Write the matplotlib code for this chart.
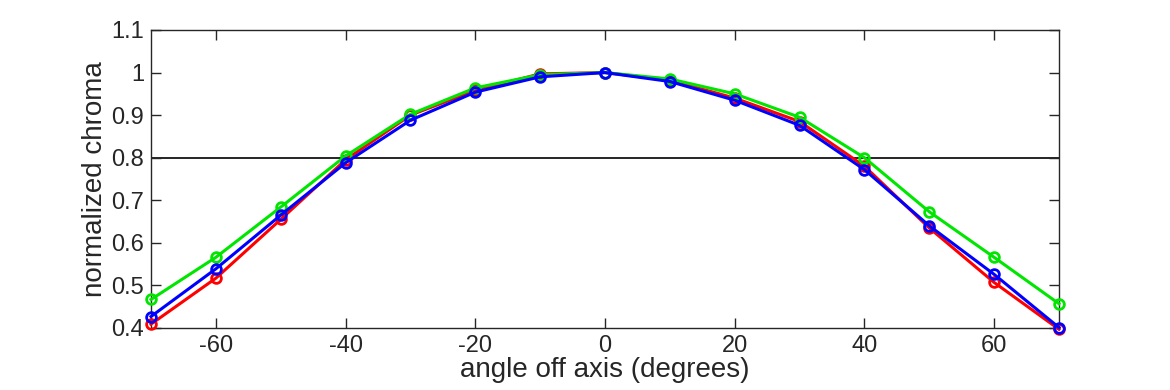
import matplotlib
matplotlib.use("Agg")
import matplotlib.pyplot as plt

angles = [-70, -60, -50, -40, -30, -20, -10, 0, 10, 20, 30, 40, 50, 60, 70]
red = [0.409, 0.517, 0.655, 0.795, 0.900, 0.958, 0.997, 1.0, 0.982, 0.940, 0.885, 0.780, 0.635, 0.507, 0.397]
green = [0.467, 0.566, 0.684, 0.804, 0.902, 0.964, 0.995, 1.0, 0.985, 0.950, 0.895, 0.800, 0.673, 0.566, 0.457]
blue = [0.427, 0.539, 0.665, 0.788, 0.888, 0.954, 0.990, 1.0, 0.979, 0.935, 0.876, 0.772, 0.640, 0.526, 0.401]
xticks = [-60, -40, -20, 0, 20, 40, 60]
yticks = [0.4, 0.5, 0.6, 0.7, 0.8, 0.9, 1.0, 1.1]
yticklabels = ["0.4", "0.5", "0.6", "0.7", "0.8", "0.9", "1", "1.1"]

plt.rcParams['font.family'] = ['Liberation Sans', 'DejaVu Sans']
plt.rcParams['axes.unicode_minus'] = False

fig = plt.figure(figsize=(11.7, 3.9), dpi=100)
ax = fig.add_axes([151/1170, 62/390, 908/1170, 298/390])

ax.axhline(0.8, color='black', linewidth=1.2, zorder=1)
for vals, col in [(red, '#ff0000'), (green, '#00e600'), (blue, '#0000ff')]:
    ax.plot(angles, vals, color=col, linewidth=2.2, marker='o', markersize=7,
            markerfacecolor='none', markeredgewidth=2, clip_on=False, zorder=3)

ax.set_xlim(-70, 70)
ax.set_ylim(0.4, 1.1)
ax.set_xticks(xticks)
ax.set_yticks(yticks)
ax.set_yticklabels(yticklabels)
ax.tick_params(direction='in', length=7, labelsize=17, colors='#262626', width=1, pad=5)
ax.tick_params(top=True, right=True)
for s in ax.spines.values():
    s.set_color('#262626')
    s.set_linewidth(1)
ax.set_xlabel('angle off axis (degrees)', fontsize=20, color='#262626', labelpad=0)
ax.set_ylabel('normalized chroma', fontsize=20, color='#262626', labelpad=2)

fig.savefig('out.png', dpi=100)
